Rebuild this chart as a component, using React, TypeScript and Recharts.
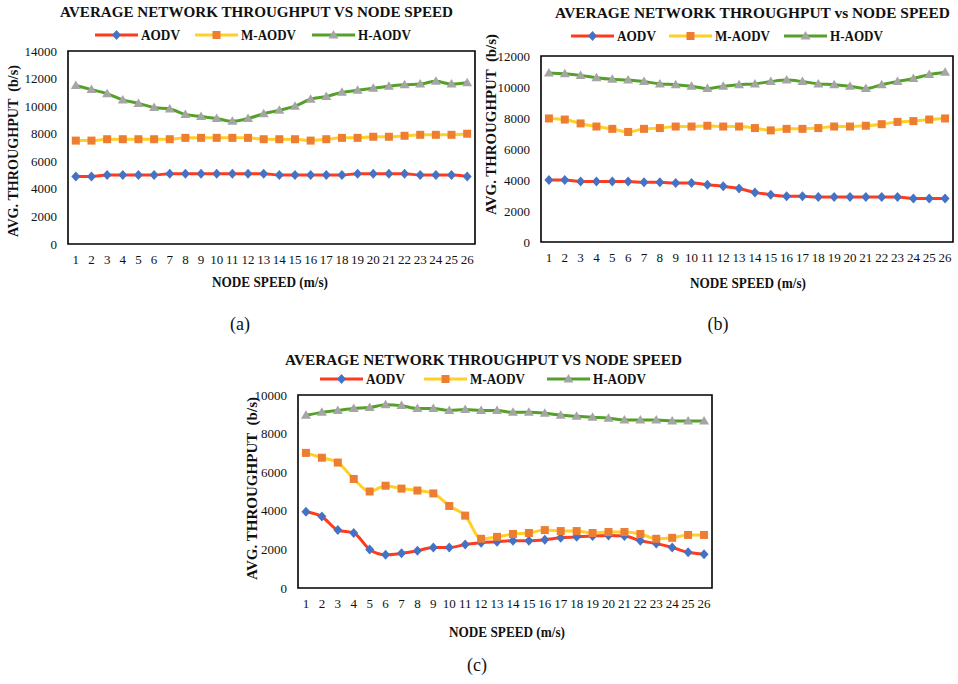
import React from 'react';
import { LineChart, Line, XAxis, YAxis, ReferenceArea } from 'recharts';

const speeds = [1, 2, 3, 4, 5, 6, 7, 8, 9, 10, 11, 12, 13, 14, 15, 16, 17, 18, 19, 20, 21, 22, 23, 24, 25, 26];

// (a)
const aodvA = [4900, 4900, 5000, 5000, 5000, 5000, 5100, 5100, 5100, 5100, 5100, 5100, 5100, 5000, 5000, 5000, 5000, 5000, 5100, 5100, 5100, 5100, 5000, 5000, 5000, 4900];
const maodvA = [7500, 7500, 7600, 7600, 7600, 7600, 7600, 7700, 7700, 7700, 7700, 7700, 7600, 7600, 7600, 7500, 7600, 7700, 7700, 7780, 7780, 7850, 7920, 7920, 7920, 8000];
const haodvA = [11500, 11200, 10900, 10450, 10200, 9900, 9800, 9400, 9250, 9100, 8900, 9100, 9450, 9700, 10000, 10500, 10700, 11000, 11150, 11300, 11450, 11550, 11600, 11800, 11600, 11700];

// (b)
const aodvB = [4000, 4000, 3900, 3900, 3900, 3900, 3850, 3850, 3800, 3800, 3700, 3600, 3450, 3200, 3050, 2950, 2950, 2900, 2900, 2900, 2900, 2900, 2900, 2800, 2800, 2800];
const maodvB = [7970, 7900, 7650, 7450, 7300, 7100, 7300, 7350, 7450, 7450, 7500, 7450, 7450, 7350, 7200, 7300, 7300, 7350, 7450, 7450, 7500, 7600, 7750, 7800, 7900, 7970];
const haodvB = [10900, 10850, 10750, 10600, 10500, 10450, 10350, 10200, 10150, 10050, 9900, 10050, 10150, 10200, 10350, 10450, 10350, 10200, 10150, 10050, 9900, 10150, 10350, 10550, 10800, 10950];

// (c)
const aodvC = [3950, 3700, 3000, 2850, 2000, 1720, 1800, 1930, 2100, 2100, 2250, 2350, 2400, 2450, 2450, 2500, 2600, 2650, 2700, 2720, 2700, 2450, 2300, 2100, 1850, 1750];
const maodvC = [7000, 6750, 6500, 5650, 5000, 5300, 5150, 5050, 4900, 4250, 3750, 2550, 2650, 2800, 2850, 3000, 2950, 2950, 2850, 2900, 2900, 2800, 2550, 2600, 2750, 2750];
const haodvC = [8950, 9100, 9200, 9300, 9350, 9500, 9450, 9300, 9300, 9200, 9250, 9200, 9200, 9100, 9100, 9050, 8950, 8900, 8850, 8800, 8700, 8700, 8700, 8650, 8650, 8650];

const seriesNames = ['AODV', 'M-AODV', 'H-AODV'];
const lineColors = ['#FF3B1C', '#FFD025', '#55A02A'];
const markerColors = ['#4472C4', '#ED7D31', '#A5A5A5'];
const shapes = ['diamond', 'square', 'triangle'];

const SERIF = "'Liberation Serif', 'DejaVu Serif', 'Times New Roman', Times, serif";

function marker(shape: string, color: string, cx: number, cy: number, key?: string) {
  if (shape === 'diamond') {
    return <path key={key} d={`M${cx},${cy - 5}L${cx + 4.5},${cy}L${cx},${cy + 5}L${cx - 4.5},${cy}Z`} fill={color} />;
  }
  if (shape === 'square') {
    return <rect key={key} x={cx - 4} y={cy - 4} width={8} height={8} fill={color} />;
  }
  return <path key={key} d={`M${cx},${cy - 5}L${cx + 5},${cy + 3.5}L${cx - 5},${cy + 3.5}Z`} fill={color} />;
}

const makeDot = (i: number) => (p: any) => marker(shapes[i], markerColors[i], p.cx, p.cy, `d${i}-${p.index}`);

const panels = [
  {
    id: 'a', left: 0, top: 0, width: 480, height: 300,
    plotLeft: 68, plotRight: 475, plotTop: 51, plotBottom: 244,
    yMax: 14000, yTicks: [0, 2000, 4000, 6000, 8000, 10000, 12000, 14000],
    title: 'AVERAGE NETWORK THROUGHPUT VS NODE SPEED', titleX: [60, 453], titleY: 12,
    legendY: 35, legendX: [95, 195, 312],
    yLabelX: 13, yLabelY: [65, 237], xTitleX: 270, xTitleY: 282,
    caption: '(a)', captionX: 240, captionY: 324,
    series: [aodvA, maodvA, haodvA],
  },
  {
    id: 'b', left: 478, top: 0, width: 480, height: 300,
    plotLeft: 541, plotRight: 953, plotTop: 56, plotBottom: 242,
    yMax: 12000, yTicks: [0, 2000, 4000, 6000, 8000, 10000, 12000],
    title: 'AVERAGE NETWORK THROUGHPUT vs NODE SPEED', titleX: [555, 950], titleY: 13,
    legendY: 36, legendX: [571, 669, 784],
    yLabelX: 491, yLabelY: [34, 215], xTitleX: 748, xTitleY: 283,
    caption: '(b)', captionX: 718, captionY: 324,
    series: [aodvB, maodvB, haodvB],
  },
  {
    id: 'c', left: 230, top: 340, width: 490, height: 300,
    plotLeft: 298, plotRight: 712, plotTop: 395, plotBottom: 588,
    yMax: 10000, yTicks: [0, 2000, 4000, 6000, 8000, 10000],
    title: 'AVERAGE NETWORK THROUGHPUT VS NODE SPEED', titleX: [285, 682], titleY: 360,
    legendY: 379, legendX: [320, 424, 547],
    yLabelX: 252, yLabelY: [397, 580], xTitleX: 507, xTitleY: 632,
    caption: '(c)', captionX: 477, captionY: 665,
    series: [aodvC, maodvC, haodvC],
  },
];

const legendTextW = [39, 55, 53];

function Panel({ p }: { p: typeof panels[number] }) {
  const rows = speeds.map((s, i) => ({ speed: s, a: p.series[0][i], m: p.series[1][i], h: p.series[2][i] }));
  const yAxisW = 45;
  const xAxisH = 30;
  const margin = {
    top: p.plotTop - p.top,
    right: p.left + p.width - p.plotRight,
    bottom: p.top + p.height - p.plotBottom - xAxisH,
    left: p.plotLeft - p.left - yAxisW,
  };
  const tick = { fill: '#111', fontSize: 13, style: { fontFamily: SERIF } };
  const keys = ['a', 'm', 'h'];
  return (
    <div style={{ position: 'absolute', left: p.left, top: p.top, width: p.width, height: p.height, fontFamily: SERIF }}>
      <LineChart width={p.width} height={p.height} data={rows} margin={margin} style={{ fontFamily: SERIF }}>
        <XAxis
          dataKey="speed"
          type="number"
          domain={[0.5, 26.5]}
          ticks={speeds}
          interval={0}
          height={xAxisH}
          axisLine={false}
          tickLine={false}
          tickSize={0}
          tickMargin={11}
          tick={tick}
        />
        <YAxis
          domain={[0, p.yMax]}
          ticks={p.yTicks}
          width={yAxisW}
          axisLine={false}
          tickLine={false}
          tickSize={0}
          tickMargin={11}
          tick={tick}
        />
        <ReferenceArea x1={0.5} x2={26.5} y1={0} y2={p.yMax} fill="none" fillOpacity={0} stroke="#000" strokeWidth={1.6} />
        {keys.map((k, i) => (
          <Line
            key={k}
            dataKey={k}
            type="monotone"
            stroke={lineColors[i]}
            strokeWidth={3}
            dot={makeDot(i)}
            activeDot={false}
            isAnimationActive={false}
          />
        ))}
      </LineChart>
    </div>
  );
}

function Labels() {
  const bold = { fontFamily: SERIF, fontWeight: 700 };
  return (
    <svg width={958} height={684} style={{ position: 'absolute', left: 0, top: 0, pointerEvents: 'none' }}>
      {panels.map((p) => (
        <g key={p.id} fill="#111">
          <text
            x={(p.titleX[0] + p.titleX[1]) / 2}
            y={p.titleY}
            textAnchor="middle"
            dominantBaseline="central"
            fontSize={14.5}
            style={bold}
            textLength={p.titleX[1] - p.titleX[0]}
            lengthAdjust="spacingAndGlyphs"
          >
            {p.title}
          </text>
          {seriesNames.map((n, i) => {
            const x0 = p.legendX[i];
            return (
              <g key={n}>
                <line x1={x0} x2={x0 + 43} y1={p.legendY} y2={p.legendY} stroke={lineColors[i]} strokeWidth={3} />
                {marker(shapes[i], markerColors[i], x0 + 21.5, p.legendY)}
                <text
                  x={x0 + 46}
                  y={p.legendY}
                  dominantBaseline="central"
                  fontSize={15}
                  style={bold}
                  textLength={legendTextW[i]}
                  lengthAdjust="spacingAndGlyphs"
                >
                  {n}
                </text>
              </g>
            );
          })}
          <text
            transform={`translate(${p.yLabelX},${(p.yLabelY[0] + p.yLabelY[1]) / 2}) rotate(-90)`}
            textAnchor="middle"
            dominantBaseline="central"
            fontSize={14}
            textLength={p.yLabelY[1] - p.yLabelY[0]}
            lengthAdjust="spacingAndGlyphs"
            style={{ ...bold, whiteSpace: 'pre' }}
          >
            {'AVG. THROUGHPUT  (b/s)'}
          </text>
          <text
            x={p.xTitleX}
            y={p.xTitleY}
            textAnchor="middle"
            dominantBaseline="central"
            fontSize={15}
            style={bold}
            textLength={116}
            lengthAdjust="spacingAndGlyphs"
          >
            NODE SPEED (m/s)
          </text>
          <text
            x={p.captionX}
            y={p.captionY}
            textAnchor="middle"
            dominantBaseline="central"
            fontSize={18}
            style={{ fontFamily: SERIF }}
          >
            {p.caption}
          </text>
        </g>
      ))}
    </svg>
  );
}

export default function App() {
  return (
    <div style={{ position: 'absolute', left: 0, top: 0, width: 958, height: 684, background: '#fff', overflow: 'hidden', fontFamily: SERIF }}>
      {panels.map((p) => (
        <Panel key={p.id} p={p} />
      ))}
      <Labels />
    </div>
  );
}
